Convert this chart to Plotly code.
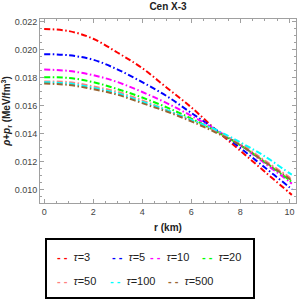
import plotly.graph_objects as go

r = [0, 1, 2, 3, 4, 5, 6, 7, 8, 9, 10, 10.1]
tau_labels = ["3", "5", "10", "20", "50", "100", "500"]
vals_tau3 = [0.0215, 0.02135, 0.0208, 0.0198, 0.0187, 0.0173, 0.0159, 0.0143, 0.0128, 0.0113, 0.0098, 0.00965]
vals_tau5 = [0.0197, 0.01962, 0.0193, 0.0186, 0.0177, 0.0167, 0.0155, 0.0143, 0.0130, 0.0116, 0.0102, 0.01005]
vals_tau10 = [0.0186, 0.0185, 0.0182, 0.0177, 0.0170, 0.0162, 0.0153, 0.0143, 0.0132, 0.0119, 0.0106, 0.01045]
vals_tau20 = [0.01805, 0.0180, 0.0177, 0.0172, 0.0166, 0.0159, 0.0151, 0.0142, 0.0132, 0.0120, 0.0107, 0.01055]
vals_tau50 = [0.01775, 0.0177, 0.0174, 0.0170, 0.0164, 0.0157, 0.0150, 0.0142, 0.0133, 0.0121, 0.0109, 0.01075]
vals_tau100 = [0.0177, 0.0176, 0.0173, 0.0169, 0.0163, 0.0157, 0.0150, 0.0143, 0.0134, 0.0124, 0.0112, 0.0111]
vals_tau500 = [0.0176, 0.0175, 0.0172, 0.0168, 0.0162, 0.0156, 0.0149, 0.0141, 0.0132, 0.0120, 0.0108, 0.01065]
series = [vals_tau3, vals_tau5, vals_tau10, vals_tau20, vals_tau50, vals_tau100, vals_tau500]
colors = ["#FF0000", "#0000FF", "#FF00FF", "#00FF00", "#FF8080", "#00FFFF", "#996633"]

x_ticks = [0, 2, 4, 6, 8, 10]
y_ticks = [0.010, 0.012, 0.014, 0.016, 0.018, 0.020, 0.022]

fig = go.Figure()
for lab, ys, c in zip(tau_labels, series, colors):
    fig.add_trace(go.Scatter(
        x=r, y=ys, mode="lines", name="τ=" + lab, showlegend=False,
        line=dict(color=c, width=2, dash="6px,2.5px,1.5px,2.5px", shape="spline"),
    ))

FONT = "Liberation Sans, Arial, sans-serif"
axis_common = dict(
    showline=True, linecolor="#a0a0a0", linewidth=1, mirror="ticks",
    ticks="inside", ticklen=4, tickcolor="#a0a0a0", showgrid=False, zeroline=False,
    tickfont=dict(family=FONT, size=9, color="#444"), ticklabeloverflow="allow",
)
fig.update_xaxes(range=[-0.17, 10.27], tickvals=x_ticks,
                 minor=dict(ticks="inside", ticklen=2, dtick=0.5, tickcolor="#a0a0a0"),
                 title=dict(text="<b>r (km)</b>", font=dict(family=FONT, size=10, color="#222"), standoff=8),
                 **axis_common)
fig.update_yaxes(range=[0.00907, 0.02221], tickvals=y_ticks, tickformat=".3f",
                 minor=dict(ticks="inside", ticklen=2, dtick=0.0005, tickcolor="#a0a0a0"),
                 title=dict(text="<b><i>ρ</i>+<i>p</i><sub>r</sub> (MeV/fm<sup>3</sup>)</b>",
                            font=dict(family=FONT, size=10, color="#222"), standoff=4),
                 **axis_common)

# Legend box
legend_rows = [[0, 1, 2, 3], [4, 5, 6]]
legend_px = [[55, 110, 148, 200], [55, 108, 166]]
legend_py = [257, 281]
W, H = 300, 300
L, R, T, B = 40, 4, 19, 97
pw = W - L - R
ph = H - T - B
annotations = []
for row, pxs, py in zip(legend_rows, legend_px, legend_py):
    for idx, px in zip(row, pxs):
        annotations.append(dict(
            xref="paper", yref="paper", x=(px - L) / pw, y=-(py - (H - B)) / ph,
            xanchor="left", yanchor="middle", showarrow=False,
            text=f"<span style='color:{colors[idx]}'><b>- -</b></span>&nbsp;&nbsp;<i>τ</i>=" + tau_labels[idx],
            font=dict(family=FONT, size=11, color="#222"),
        ))
fig.add_shape(type="rect", xref="paper", yref="paper",
              x0=(46 - L) / pw, x1=(254 - L) / pw,
              y0=-(298 - (H - B)) / ph, y1=-(239 - (H - B)) / ph,
              line=dict(color="black", width=2))

fig.update_layout(
    width=W, height=H, margin=dict(l=L, r=R, t=T, b=B),
    paper_bgcolor="white", plot_bgcolor="white",
    title=dict(text="<b>Cen X-3</b>", x=0.5, xref="paper", y=1 - 6.5 / H, yref="container",
               xanchor="center", yanchor="middle", font=dict(family=FONT, size=10, color="#222")),
    annotations=annotations, showlegend=False,
)
fig.write_html("out.html", config={"displayModeBar": False},
               post_script="document.body.style.margin='0px';")
